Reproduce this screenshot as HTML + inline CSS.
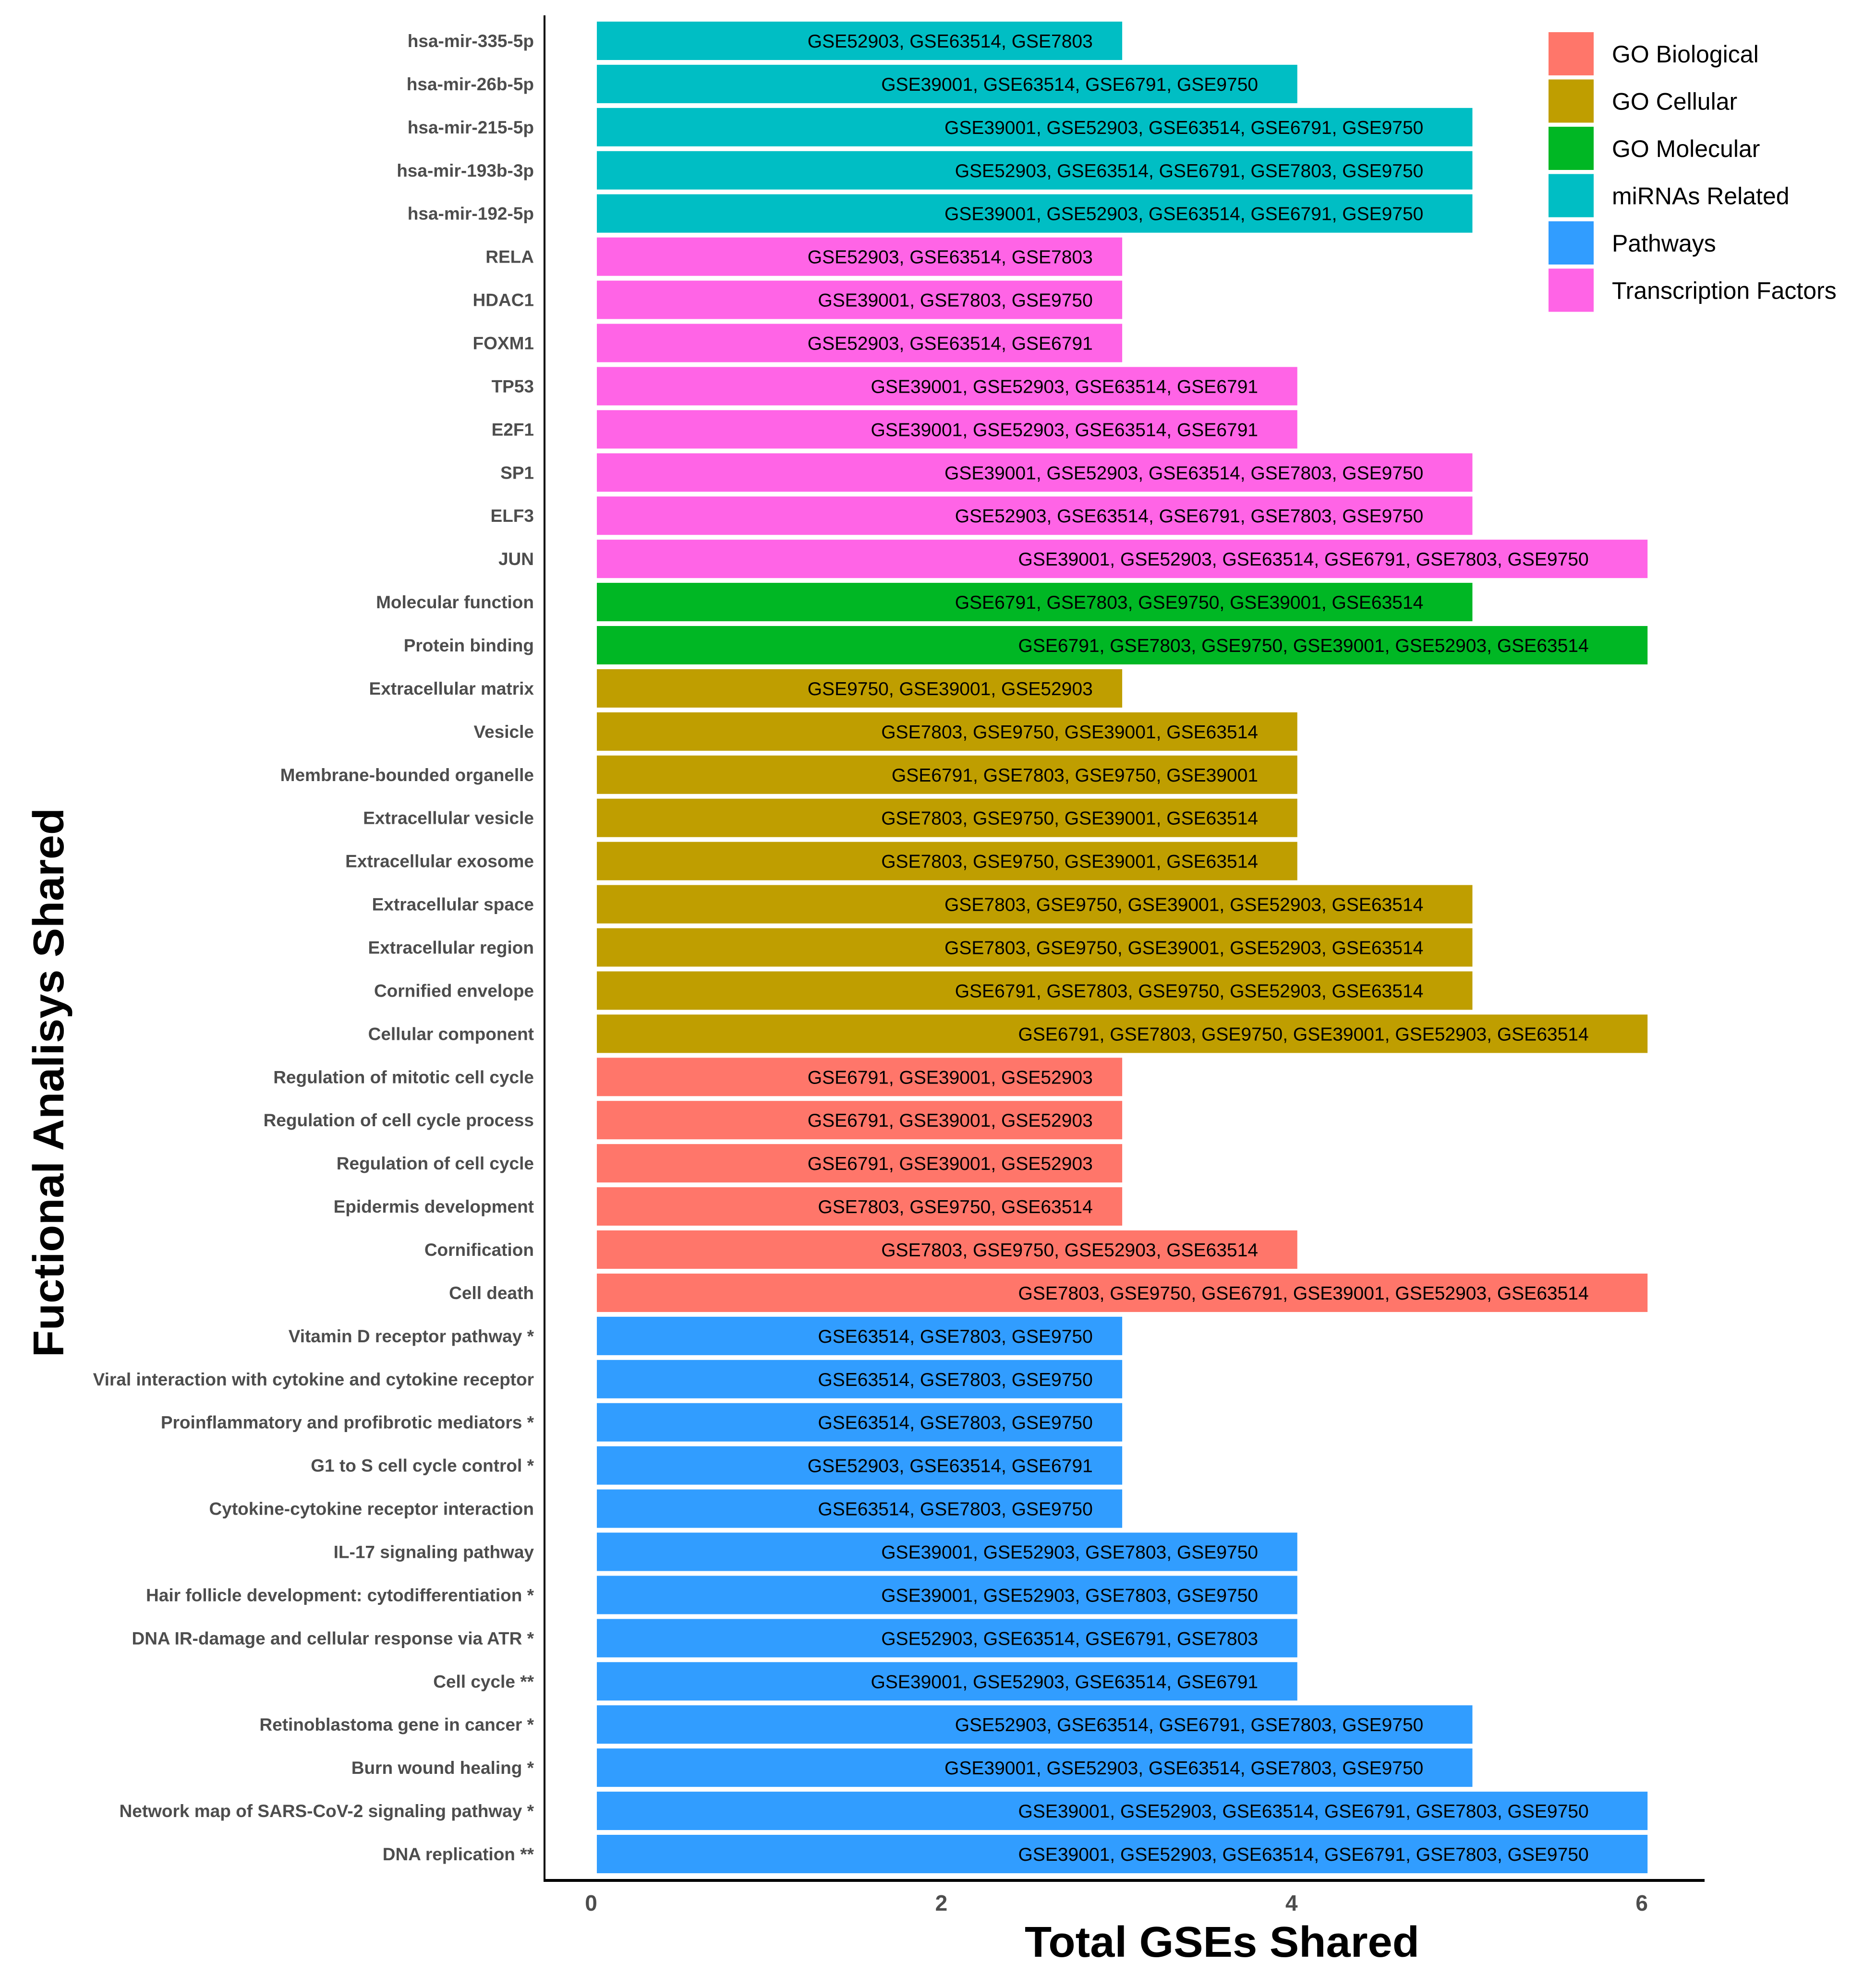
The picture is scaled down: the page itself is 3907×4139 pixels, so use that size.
<!DOCTYPE html>
<html><head><meta charset="utf-8"><style>
html,body{margin:0;padding:0;background:#fff;}
svg{display:block;font-family:"Liberation Sans",Arial,sans-serif;}
</style></head><body>
<svg id="chart" width="3907" height="4139" viewBox="0 0 3907 4139" xmlns="http://www.w3.org/2000/svg">
<rect x="0" y="0" width="3907" height="4139" fill="#fff"/>
<g id="bars"></g>
<g id="ylabels"></g>
<g id="xticks"></g>
<line x1="1134" y1="32" x2="1134" y2="3919" stroke="#000" stroke-width="4"/>
<line x1="1132" y1="3917" x2="3550" y2="3917" stroke="#000" stroke-width="6"/>
<text x="2545" y="4076" font-size="90" font-weight="bold" text-anchor="middle" textLength="822" lengthAdjust="spacingAndGlyphs">Total GSEs Shared</text>
<text transform="translate(132,2255) rotate(-90)" font-size="90" font-weight="bold" text-anchor="middle" textLength="1144" lengthAdjust="spacingAndGlyphs">Fuctional Analisys Shared</text>
<g id="legend"></g>
</svg>
<script>
const categories = ["hsa-mir-335-5p","hsa-mir-26b-5p","hsa-mir-215-5p","hsa-mir-193b-3p","hsa-mir-192-5p","RELA","HDAC1","FOXM1","TP53","E2F1","SP1","ELF3","JUN","Molecular function","Protein binding","Extracellular matrix","Vesicle","Membrane-bounded organelle","Extracellular vesicle","Extracellular exosome","Extracellular space","Extracellular region","Cornified envelope","Cellular component","Regulation of mitotic cell cycle","Regulation of cell cycle process","Regulation of cell cycle","Epidermis development","Cornification","Cell death","Vitamin D receptor pathway *","Viral interaction with cytokine and cytokine receptor","Proinflammatory and profibrotic mediators *","G1 to S cell cycle control *","Cytokine-cytokine receptor interaction","IL-17 signaling pathway","Hair follicle development: cytodifferentiation *","DNA IR-damage and cellular response via ATR *","Cell cycle **","Retinoblastoma gene in cancer *","Burn wound healing *","Network map of SARS-CoV-2 signaling pathway *","DNA replication **"];
const values = [3,4,5,5,5,3,3,3,4,4,5,5,6,5,6,3,4,4,4,4,5,5,5,6,3,3,3,3,4,6,3,3,3,3,3,4,4,4,4,5,5,6,6];
const groups = ["mi","mi","mi","mi","mi","tf","tf","tf","tf","tf","tf","tf","tf","mol","mol","cel","cel","cel","cel","cel","cel","cel","cel","cel","bio","bio","bio","bio","bio","bio","pw","pw","pw","pw","pw","pw","pw","pw","pw","pw","pw","pw","pw"];
const barTexts = ["GSE52903, GSE63514, GSE7803","GSE39001, GSE63514, GSE6791, GSE9750","GSE39001, GSE52903, GSE63514, GSE6791, GSE9750","GSE52903, GSE63514, GSE6791, GSE7803, GSE9750","GSE39001, GSE52903, GSE63514, GSE6791, GSE9750","GSE52903, GSE63514, GSE7803","GSE39001, GSE7803, GSE9750","GSE52903, GSE63514, GSE6791","GSE39001, GSE52903, GSE63514, GSE6791","GSE39001, GSE52903, GSE63514, GSE6791","GSE39001, GSE52903, GSE63514, GSE7803, GSE9750","GSE52903, GSE63514, GSE6791, GSE7803, GSE9750","GSE39001, GSE52903, GSE63514, GSE6791, GSE7803, GSE9750","GSE6791, GSE7803, GSE9750, GSE39001, GSE63514","GSE6791, GSE7803, GSE9750, GSE39001, GSE52903, GSE63514","GSE9750, GSE39001, GSE52903","GSE7803, GSE9750, GSE39001, GSE63514","GSE6791, GSE7803, GSE9750, GSE39001","GSE7803, GSE9750, GSE39001, GSE63514","GSE7803, GSE9750, GSE39001, GSE63514","GSE7803, GSE9750, GSE39001, GSE52903, GSE63514","GSE7803, GSE9750, GSE39001, GSE52903, GSE63514","GSE6791, GSE7803, GSE9750, GSE52903, GSE63514","GSE6791, GSE7803, GSE9750, GSE39001, GSE52903, GSE63514","GSE6791, GSE39001, GSE52903","GSE6791, GSE39001, GSE52903","GSE6791, GSE39001, GSE52903","GSE7803, GSE9750, GSE63514","GSE7803, GSE9750, GSE52903, GSE63514","GSE7803, GSE9750, GSE6791, GSE39001, GSE52903, GSE63514","GSE63514, GSE7803, GSE9750","GSE63514, GSE7803, GSE9750","GSE63514, GSE7803, GSE9750","GSE52903, GSE63514, GSE6791","GSE63514, GSE7803, GSE9750","GSE39001, GSE52903, GSE7803, GSE9750","GSE39001, GSE52903, GSE7803, GSE9750","GSE52903, GSE63514, GSE6791, GSE7803","GSE39001, GSE52903, GSE63514, GSE6791","GSE52903, GSE63514, GSE6791, GSE7803, GSE9750","GSE39001, GSE52903, GSE63514, GSE7803, GSE9750","GSE39001, GSE52903, GSE63514, GSE6791, GSE7803, GSE9750","GSE39001, GSE52903, GSE63514, GSE6791, GSE7803, GSE9750"];
const xTicks = [0,2,4,6];
const legendKeys = ["bio","cel","mol","mi","pw","tf"];
const legendLabels = ["GO Biological","GO Cellular","GO Molecular","miRNAs Related","Pathways","Transcription Factors"];
const colorMap = {bio:"#FF766A",cel:"#BF9E00",mol:"#00B724",mi:"#00BEC4",pw:"#319DFF",tf:"#FF64E6"};

const NS = "http://www.w3.org/2000/svg";
const X0 = 1243, UNIT = 364.7;
const xScale = v => X0 + v * UNIT;
const n = categories.length;
const TOP = 85, BOTTOM = 3862;
const pitch = (BOTTOM - TOP) / (n - 1);
const yScale = i => TOP + i * pitch;
const BH = 80;
function mk(tag, attrs, parent){const e=document.createElementNS(NS,tag);for(const k in attrs)e.setAttribute(k,attrs[k]);parent.appendChild(e);return e;}
const gb = document.getElementById('bars'), gl = document.getElementById('ylabels'), gx = document.getElementById('xticks'), gleg = document.getElementById('legend');
categories.forEach((c,i)=>{
  const yc = yScale(i);
  const r = mk('rect',{x:X0,y:yc-BH/2,width:xScale(values[i])-X0,height:BH,fill:colorMap[groups[i]]},gb);
  
  
  const t = mk('text',{x:xScale(values[i]*0.944),y:yc+14,'font-size':39,'text-anchor':'end',fill:'#000'},gb);
  t.textContent = barTexts[i];
  
  
  const l = mk('text',{x:1112,y:yc+13,'font-size':37,'font-weight':'bold','text-anchor':'end',fill:'#4d4d4d'},gl);
  l.textContent = c;
  
  
});
xTicks.forEach(v=>{
  const t = mk('text',{x:xScale(v)-12,y:3980,'font-size':46,'font-weight':'bold','text-anchor':'middle',fill:'#4d4d4d'},gx);
  t.textContent = v;
  
  
});
legendKeys.forEach((k,i)=>{
  const yc = 112 + i*98.5;
  const r = mk('rect',{x:3225,y:yc-45,width:94,height:90,fill:colorMap[k]},gleg);
  
  
  const t = mk('text',{x:3357,y:yc+18,'font-size':50,fill:'#000'},gleg);
  t.textContent = legendLabels[i];
  
  
});
</script>
</body></html>
